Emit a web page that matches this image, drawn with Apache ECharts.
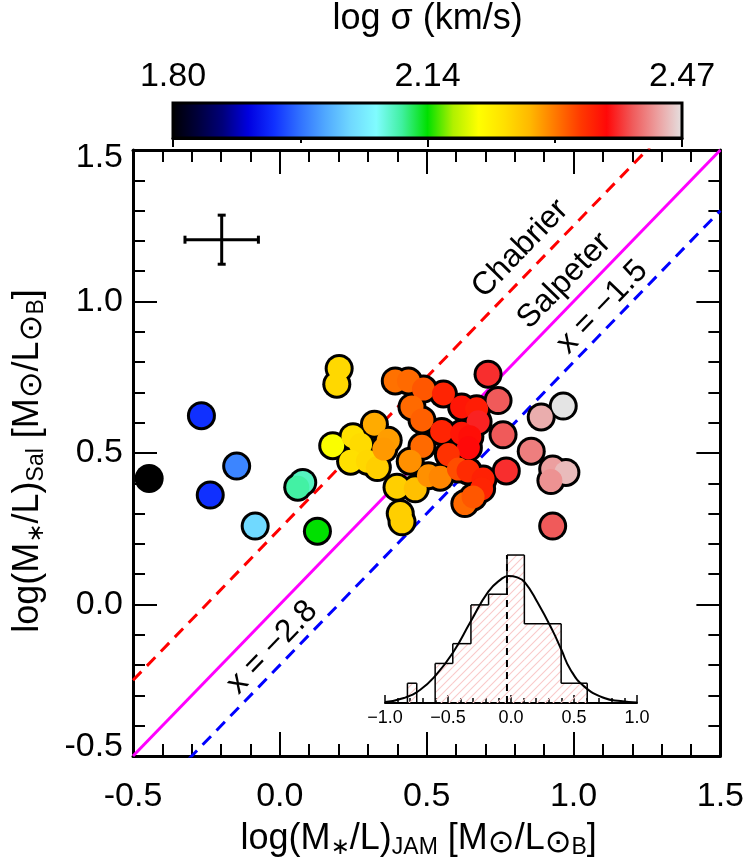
<!DOCTYPE html>
<html><head><meta charset="utf-8">
<script src="https://cdn.jsdelivr.net/npm/echarts@6/dist/echarts.min.js"></script>
<style>html,body{margin:0;padding:0;background:#fff}#c{width:747px;height:864px}</style>
</head><body><div id="c"></div>
<script>
// ---- data ----
const jamML = [-0.445,-0.267,-0.147,-0.237,-0.084,0.078,0.061,0.128,
  0.202,0.194,
  0.180,0.249,0.275,0.241,0.298,0.332,0.322,0.369,0.354,0.399,0.461,0.410,0.416,
  0.393,0.438,0.489,0.557,0.619,0.670,0.675,0.450,0.484,0.551,0.619,0.647,0.642,0.484,0.574,0.444,0.506,0.546,0.608,0.641,0.692,0.687,0.630,0.658,
  0.709,0.743,0.760,0.771,
  0.890,0.965,0.856,0.929,0.974,0.923,0.929];
const salML = [0.416,0.623,0.457,0.361,0.259,0.403,0.387,0.242,
  0.779,0.727,
  0.524,0.554,0.528,0.473,0.473,0.452,0.595,0.542,0.513,0.387,0.382,0.300,0.273,
  0.738,0.738,0.711,0.695,0.652,0.646,0.603,0.652,0.609,0.571,0.565,0.554,0.517,0.522,0.495,0.473,0.425,0.420,0.447,0.441,0.414,0.382,0.333,0.355,
  0.760,0.673,0.560,0.441,
  0.619,0.655,0.506,0.447,0.436,0.409,0.259];
const logSigma = [1.80,1.934,1.98,1.934,2.035,2.09,2.10,2.135,
  2.242,2.242,
  2.20,2.235,2.24,2.235,2.242,2.25,2.276,2.283,2.285,2.25,2.262,2.25,2.25,
  2.306,2.31,2.32,2.35,2.36,2.355,2.38,2.31,2.315,2.35,2.36,2.365,2.37,2.31,2.34,2.29,2.29,2.295,2.325,2.345,2.352,2.35,2.31,2.32,
  2.385,2.403,2.403,2.385,
  2.443,2.47,2.42,2.436,2.45,2.43,2.403];

const sigmaMin = 1.80, sigmaMax = 2.47;
const colorbarLabels = ['1.80','2.14','2.47'];
const sigmaColormap = ['#000000','#00003a','#00007a','#0000e0','#1030ff','#3070ff','#50a8ff','#70d8ff',
  '#80fcff','#40f0a0','#00e000','#b0f000','#ffff00','#ffe000','#ffb800','#ff7800','#ff3800','#ff0808',
  '#f05a5a','#eca0a0','#e4e4e4'];

const ratioLineNames = ['Chabrier','Salpeter','x = −1.5'];
const ratioLineOffsets = [0.25, 0.0, -0.2];
const ratioLineColors = ['#ff0000','#ff00ff','#0000ff'];
const ratioLineDashed = [true,false,true];

const annotationTexts = ['Chabrier','Salpeter','x = −1.5','x = −2.8'];
const annotationX = [0.819,0.969,1.098,-0.026];
const annotationY = [1.174,1.068,0.981,-0.142];

const errCross = [-0.198, 1.204, 0.125, 0.081];

// inset histogram
const histLo = [-0.822,-0.748,-0.602,-0.462,-0.318,-0.178,-0.032,0.106,0.398];
const histHi = [-0.748,-0.602,-0.462,-0.318,-0.178,-0.032,0.106,0.398,0.605];
const histCount = [1.0,0.0,2.0,3.0,4.96,5.5,7.48,4.0,1.0];
const gaussX = [-1.0,-0.85,-0.72,-0.60,-0.46,-0.32,-0.18,-0.08,-0.02,0.05,0.11,0.21,0.33,0.40,0.47,0.58,0.74,0.87,1.0];
const gaussY = [0.05,0.25,0.67,1.38,2.55,4.12,5.63,6.25,6.42,6.35,6.10,5.09,3.66,2.69,1.71,0.84,0.25,0.10,0.03];
const medianX = -0.032, medianTop = 7.48;

// ---- chart ----
const FONT = "'Liberation Sans', 'DejaVu Sans', Arial, sans-serif";
const chart = echarts.init(document.getElementById('c'), null, {renderer:'canvas'});

const pc = document.createElement('canvas'); pc.width = 8; pc.height = 8;
const pctx = pc.getContext('2d');
pctx.strokeStyle = '#f9caca'; pctx.lineWidth = 1.1;
pctx.beginPath(); pctx.moveTo(0,8); pctx.lineTo(8,0); pctx.moveTo(-1,1); pctx.lineTo(1,-1); pctx.moveTo(7,9); pctx.lineTo(9,7); pctx.stroke();
const hatch = {image: pc, repeat: 'repeat'};

const pts = jamML.map((x,i)=>[x, salML[i], logSigma[i]]);

const xMin=-0.5, xMax=1.5, yMin=-0.5, yMax=1.5;
const mainTicks = {
  axisLine:{show:true, onZero:false, lineStyle:{color:'#000', width:3}},
  axisTick:{show:true, inside:true, length:24, lineStyle:{color:'#000', width:2}},
  minorTick:{show:true, splitNumber:5, length:12, lineStyle:{color:'#000', width:2}},
  splitLine:{show:false}, minorSplitLine:{show:false}
};
const labelStyle = {fontSize:34, color:'#000', fontFamily:FONT};
const richName = {
  a:{fontSize:36, fontFamily:FONT, color:'#000', lineHeight:42},
  s:{fontSize:23, fontFamily:FONT, color:'#000', lineHeight:42, padding:[17,0,0,0]},
  o:{fontSize:32, fontFamily:FONT, color:'#000', lineHeight:42, padding:[8,0,0,0]}
};

const series = [];
ratioLineOffsets.forEach((off,i)=>{
  series.push({type:'line', name:ratioLineNames[i], xAxisIndex:0, yAxisIndex:0, z:2,
    data:[[xMin, xMin+off],[xMax, xMax+off]], symbol:'none', clip:true, silent:true,
    lineStyle:{color:ratioLineColors[i], width:3, type: ratioLineDashed[i] ? [12,8] : 'solid'}});
});
series.push({type:'scatter', xAxisIndex:0, yAxisIndex:0, z:5, symbolSize:0, silent:true,
  itemStyle:{color:'#000', opacity:1},
  data: annotationTexts.map((t,i)=>({name:t, value:[annotationX[i], annotationY[i]]})),
  label:{show:true, position:'inside', rotate:46, fontSize:32, fontFamily:FONT, color:'#000', opacity:1,
    textBorderWidth:0, formatter:p=>p.name}});
series.push({type:'custom', xAxisIndex:0, yAxisIndex:0, z:5, silent:true,
  data:[errCross],
  renderItem:(params, api)=>{
    const x=api.value(0), y=api.value(1), ex=api.value(2), ey=api.value(3);
    const l=api.coord([x-ex,y]), r=api.coord([x+ex,y]), t=api.coord([x,y+ey]), b=api.coord([x,y-ey]);
    const st={stroke:'#000', lineWidth:3}; const cap=4;
    return {type:'group', children:[
      {type:'line', shape:{x1:l[0],y1:l[1],x2:r[0],y2:r[1]}, style:st},
      {type:'line', shape:{x1:t[0],y1:t[1],x2:b[0],y2:b[1]}, style:st},
      {type:'line', shape:{x1:l[0],y1:l[1]-cap,x2:l[0],y2:l[1]+cap}, style:st},
      {type:'line', shape:{x1:r[0],y1:r[1]-cap,x2:r[0],y2:r[1]+cap}, style:st},
      {type:'line', shape:{x1:t[0]-cap,y1:t[1],x2:t[0]+cap,y2:t[1]}, style:st},
      {type:'line', shape:{x1:b[0]-cap,y1:b[1],x2:b[0]+cap,y2:b[1]}, style:st}
    ]};
  }});
series.push({type:'scatter', name:'outline', xAxisIndex:0, yAxisIndex:0, z:3, silent:true,
  data:pts, symbolSize:29, itemStyle:{color:'#000', opacity:1}});
const fillIndex = series.length;
series.push({type:'scatter', name:'galaxies', xAxisIndex:0, yAxisIndex:0, z:4, silent:true,
  data:pts, symbolSize:23, itemStyle:{opacity:1}});
series.push({type:'custom', xAxisIndex:2, yAxisIndex:2, z:1, silent:true, data:[[0,1]],
  renderItem:(params, api)=>{
    const p0=api.coord([api.value(0),1]), p1=api.coord([api.value(1),0]);
    const stops = sigmaColormap.map((c,i)=>({offset:i/(sigmaColormap.length-1), color:c}));
    return {type:'rect', shape:{x:p0[0], y:p0[1], width:p1[0]-p0[0], height:p1[1]-p0[1]},
      style:{fill:new echarts.graphic.LinearGradient(0,0,1,0,stops), stroke:'#000', lineWidth:3}};
  }});
// histogram: hatched fill + step outline
series.push({type:'custom', xAxisIndex:3, yAxisIndex:3, z:2, silent:true,
  data: histLo.map((lo,i)=>[lo, histHi[i], histCount[i], i>0?histCount[i-1]:0, i===histLo.length-1?1:0]),
  renderItem:(params, api)=>{
    const lo=api.value(0), hi=api.value(1), h=api.value(2), hp=api.value(3), last=api.value(4);
    const p0=api.coord([lo, h]), p1=api.coord([hi, 0]), pp=api.coord([lo, hp]);
    const st={stroke:'#000', lineWidth:1.5};
    const ch=[
      {type:'rect', shape:{x:p0[0], y:p0[1], width:p1[0]-p0[0], height:p1[1]-p0[1]}, style:{fill:hatch}},
      {type:'line', shape:{x1:p0[0],y1:p0[1],x2:p1[0],y2:p0[1]}, style:st},
      {type:'line', shape:{x1:p0[0],y1:pp[1],x2:p0[0],y2:p0[1]}, style:st}
    ];
    if (last) ch.push({type:'line', shape:{x1:p1[0],y1:p0[1],x2:p1[0],y2:p1[1]}, style:st});
    return {type:'group', children:ch};
  }});
series.push({type:'line', xAxisIndex:3, yAxisIndex:3, z:3, silent:true, smooth:true, symbol:'none',
  data: gaussX.map((x,i)=>[x, gaussY[i]]), lineStyle:{color:'#000', width:2}});
series.push({type:'line', xAxisIndex:3, yAxisIndex:3, z:3, silent:true, symbol:'none',
  data: [[medianX,0],[medianX,medianTop]], lineStyle:{color:'#000', width:2, type:[7,5]}});

const option = {
  backgroundColor:'#fff',
  animation:false,
  grid:[
    {left:131, top:150, width:591, height:617},
    {left:173, top:101, width:509, height:37},
    {left:385, top:540, width:252, height:163}
  ],
  xAxis:[
    Object.assign({type:'value', gridIndex:0, position:'bottom', min:xMin, max:xMax, interval:0.5,
      axisLabel:Object.assign({margin:24, formatter:v=>v.toFixed(1)}, labelStyle),
      name:'{a|log(M}{s|∗}{a|/L)}{s|JAM}{a| [M}{o|⊙}{a|/L}{o|⊙}{s|B}{a|]}',
      nameLocation:'middle', nameGap:62, nameTextStyle:{rich:richName, padding:[0,16,0,0]}}, mainTicks),
    Object.assign({type:'value', gridIndex:0, position:'top', min:xMin, max:xMax, interval:0.5,
      axisLabel:{show:false}}, mainTicks),
    {type:'value', gridIndex:1, position:'top', min:0, max:1, interval:0.5, z:10,
      axisLine:{show:true, lineStyle:{color:'#000', width:3}},
      axisTick:{show:true, inside:true, length:9, lineStyle:{color:'#000', width:2}},
      minorTick:{show:true, splitNumber:2, length:5, lineStyle:{color:'#000', width:2}},
      splitLine:{show:false},
      axisLabel:Object.assign({margin:9, formatter:v=>colorbarLabels[Math.round(v*2)]}, labelStyle),
      name:'log σ (km/s)', nameLocation:'middle', nameGap:66,
      nameTextStyle:{fontSize:36, fontFamily:FONT, color:'#000'}},
    {type:'value', gridIndex:2, position:'bottom', min:-1, max:1, interval:0.5,
      axisLine:{show:true, onZero:false, lineStyle:{color:'#000', width:2}},
      axisTick:{show:true, inside:true, length:8, lineStyle:{color:'#000', width:1.5}},
      minorTick:{show:true, splitNumber:5, length:5, lineStyle:{color:'#000', width:1.5}},
      splitLine:{show:false},
      axisLabel:{margin:6, fontSize:18, fontFamily:FONT, color:'#000',
        formatter:v=>(v<0?'−':'')+Math.abs(v).toFixed(1)}}
  ],
  yAxis:[
    Object.assign({type:'value', gridIndex:0, position:'left', min:yMin, max:yMax, interval:0.5,
      axisLabel:Object.assign({margin:10,
        formatter:v=> v===yMax ? '{t|'+v.toFixed(1)+'}' : (v===yMin ? '{b|'+v.toFixed(1)+'}' : v.toFixed(1)),
        rich:{t:{fontSize:34, fontFamily:FONT, color:'#000', padding:[16,0,0,0]},
              b:{fontSize:34, fontFamily:FONT, color:'#000', padding:[0,0,18,0]}}}, labelStyle),
      name:'{a|log(M}{s|∗}{a|/L)}{s|Sal}{a| [M}{o|⊙}{a|/L}{o|⊙}{s|B}{a|]}',
      nameLocation:'middle', nameGap:84, nameRotate:90, nameTextStyle:{rich:richName, padding:[0,16,0,0]}}, mainTicks),
    Object.assign({type:'value', gridIndex:0, position:'right', min:yMin, max:yMax, interval:0.5,
      axisLabel:{show:false}}, mainTicks),
    {type:'value', gridIndex:1, min:0, max:1, show:false},
    {type:'value', gridIndex:2, min:0, max:8.24, show:false}
  ],
  visualMap:[{type:'continuous', show:false, seriesIndex:fillIndex, dimension:2,
    min:sigmaMin, max:sigmaMax, inRange:{color:sigmaColormap}}],
  series: series
};
chart.setOption(option);
</script>
</body></html>
